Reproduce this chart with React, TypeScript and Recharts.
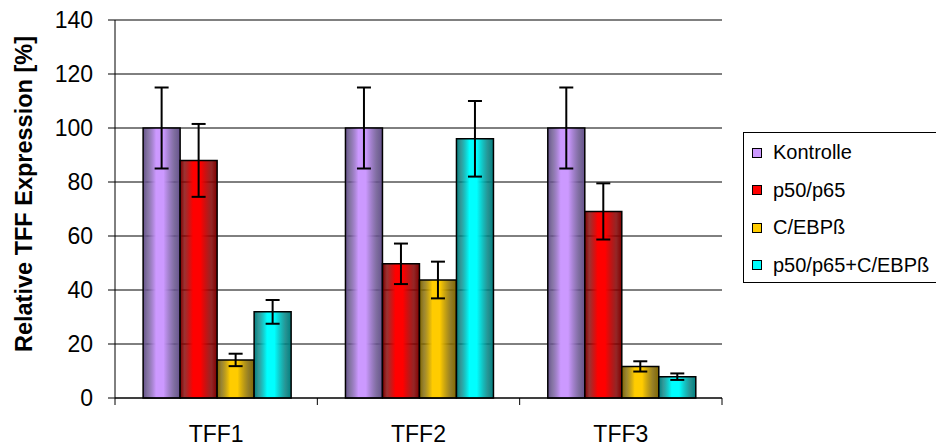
import React from "react";
import {
  BarChart, Bar, XAxis, YAxis, CartesianGrid, ErrorBar, ReferenceLine,
} from "recharts";

// ─── Data ─────────────────────────────────────────────────────────────────────
const categories = ["TFF1", "TFF2", "TFF3"];
const kontrolle = [100, 100, 100];
const kontrolleErr = [15, 15, 15];
const p5065 = [88, 49.7, 69.1];
const p5065Err = [13.5, 7.5, 10.4];
const cebp = [14.1, 43.7, 11.7];
const cebpErr = [2.3, 6.8, 1.9];
const combo = [31.9, 96, 7.9];
const comboErr = [4.4, 14, 1.2];
const yTicks = [0, 20, 40, 60, 80, 100, 120, 140];

const series = [
  { key: "k", name: "Kontrolle", light: "#cc99ff", dark: "#66528c" },
  { key: "p", name: "p50/p65", light: "#ff0000", dark: "#800000" },
  { key: "c", name: "C/EBPß", light: "#ffcc00", dark: "#806600" },
  { key: "pc", name: "p50/p65+C/EBPß", light: "#00ffff", dark: "#008080" },
];

const data = categories.map((cat, i) => ({
  cat,
  k: kontrolle[i], kErr: kontrolleErr[i],
  p: p5065[i], pErr: p5065Err[i],
  c: cebp[i], cErr: cebpErr[i],
  pc: combo[i], pcErr: comboErr[i],
}));

const FONT = "'Liberation Sans', Arial, sans-serif";

// ─── Category tick: label + boundary tick marks ──────────────────────────────
const CatTick = (props: any) => {
  const { x, payload, index } = props;
  const off = payload.offset ?? 101;
  return (
    <g>
      <line x1={x - off} x2={x - off} y1={398} y2={405} stroke="#000" />
      {index === categories.length - 1 && (
        <line x1={x + off} x2={x + off} y1={398} y2={405} stroke="#000" />
      )}
      <text x={x} y={442} textAnchor="middle" fontSize={23} fontFamily={FONT} fill="#000">
        {payload.value}
      </text>
    </g>
  );
};

// ─── Legend box ──────────────────────────────────────────────────────────────
const LegendBox = () => (
  <div style={{
    position: "absolute", left: 743, top: 132, width: 200, height: 151,
    border: "1px solid #000", boxSizing: "border-box", background: "#fff",
    padding: "1px 0 0 8px", fontFamily: FONT, fontSize: 20, color: "#000",
  }}>
    {series.map((s) => (
      <div key={s.key} style={{ display: "flex", alignItems: "center", height: 37.5 }}>
        <span style={{
          width: 8, height: 8, border: "1px solid #000", background: s.light,
          marginRight: 11, flexShrink: 0,
        }} />
        <span style={{ whiteSpace: "nowrap" }}>{s.name}</span>
      </div>
    ))}
  </div>
);

// ─── Component ────────────────────────────────────────────────────────────────
export default function App() {
  return (
    <div style={{ position: "absolute", left: 0, top: 0, width: 936, height: 448, background: "#fff", overflow: "hidden" }}>
      <BarChart
        width={936}
        height={448}
        data={data}
        margin={{ top: 20, right: 214, left: 0, bottom: 0 }}
        barCategoryGap="13.9%"
        barGap={0}
      >
        <defs>
          {series.map((s) => (
            <linearGradient key={s.key} id={`g-${s.key}`} x1="0" y1="0" x2="1" y2="0">
              <stop offset="0%" stopColor={s.dark} />
              <stop offset="12%" stopColor={s.dark} stopOpacity={0.8} />
              <stop offset="35%" stopColor={s.light} />
              <stop offset="55%" stopColor={s.light} />
              <stop offset="85%" stopColor={s.dark} stopOpacity={0.85} />
              <stop offset="100%" stopColor={s.dark} />
            </linearGradient>
          ))}
        </defs>
        <CartesianGrid vertical={false} stroke="#000" />
        <ReferenceLine y={140} stroke="#808080" strokeWidth={2} />
        <XAxis
          dataKey="cat"
          height={50}
          axisLine={{ stroke: "#000" }}
          tickLine={false}
          tick={<CatTick />}
          interval={0}
        />
        <YAxis
          domain={[0, 140]}
          ticks={yTicks}
          width={115}
          axisLine={{ stroke: "#000" }}
          tickLine={{ stroke: "#000" }}
          tickSize={7}
          tickMargin={15}
          tick={{ fill: "#000", fontSize: 23, fontFamily: FONT }}
          label={{
            content: () => (
              <text
                x={32} y={194} transform="rotate(-90, 32, 194)"
                textAnchor="middle" fontSize={23.5} fontWeight="bold" fontFamily={FONT} fill="#000"
              >
                Relative TFF Expression [%]
              </text>
            ),
          }}
        />
        <YAxis
          yAxisId="r"
          orientation="right"
          domain={[0, 140]}
          width={0}
          tick={false}
          tickLine={false}
          axisLine={{ stroke: "#808080", strokeWidth: 2 }}
        />
        {series.map((s) => (
          <Bar
            key={s.key}
            dataKey={s.key}
            name={s.name}
            fill={`url(#g-${s.key})`}
            stroke="#000"
            strokeWidth={1.5}
            isAnimationActive={false}
          >
            <ErrorBar dataKey={`${s.key}Err`} width={7} stroke="#000" strokeWidth={2} direction="y" />
          </Bar>
        ))}
      </BarChart>
      <LegendBox />
    </div>
  );
}
